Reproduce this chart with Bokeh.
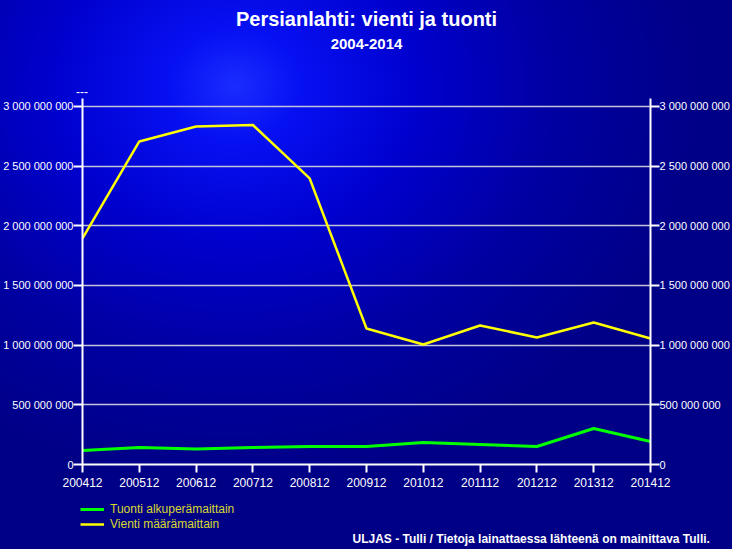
from bokeh.plotting import figure
from bokeh.layouts import column
from bokeh.models import (ColumnDataSource, LinearAxis, FixedTicker, Range1d,
                          Legend, LegendItem, Label)
from bokeh.embed import file_html
from bokeh.resources import INLINE

# ---- data ----
periods = ["200412", "200512", "200612", "200712", "200812", "200912",
           "201012", "201112", "201212", "201312", "201412"]
vienti = [1.894e9, 2.707e9, 2.832e9, 2.845e9, 2.397e9, 1.140e9,
          1.006e9, 1.165e9, 1.064e9, 1.190e9, 1.056e9]
tuonti = [0.117e9, 0.142e9, 0.130e9, 0.142e9, 0.151e9, 0.151e9,
          0.184e9, 0.168e9, 0.151e9, 0.302e9, 0.193e9]
y_ticks = [0, 500_000_000, 1_000_000_000, 1_500_000_000, 2_000_000_000,
           2_500_000_000, 3_000_000_000]
y_tick_labels = ["0", "500 000 000", "1 000 000 000", "1 500 000 000",
                 "2 000 000 000", "2 500 000 000", "3 000 000 000"]
title_text = "Persianlahti: vienti ja tuonti"
subtitle_text = "2004-2014"
footer_text = "ULJAS - Tulli / Tietoja lainattaessa lähteenä on mainittava Tulli."
series_names = ["Tuonti alkuperämaittain", "Vienti määrämaittain"]

FONT = "Liberation Sans"
W = 732
H_TOP, H_MAIN, H_BOT = 98, 391, 60
xs = list(range(len(periods)))
y_overrides = {v: s for v, s in zip(y_ticks, y_tick_labels)}
src = ColumnDataSource(dict(x=xs, vienti=vienti, tuonti=tuonti))

common = dict(output_backend="svg", toolbar_location=None, background_fill_alpha=0,
              border_fill_alpha=0, outline_line_alpha=0)


def free_frame(fig):
    # header/footer strips should not be aligned to the chart frame
    if "frame_align" in fig.properties():
        fig.frame_align = False


# ---------- header (titles) ----------
p0 = figure(width=W, height=H_TOP, x_range=Range1d(0, W), y_range=Range1d(H_TOP, 0),
            x_axis_location=None, y_axis_location=None, min_border=0, title=None, **common)
p0.grid.visible = False
free_frame(p0)
for txt, x, y, size, style in [(title_text, 366, 18.5, "20px", "bold"),
                               (subtitle_text, 366, 43.5, "15px", "bold"),
                               ("---", 81.5, 91, "12px", "normal")]:
    p0.add_layout(Label(x=x, y=y, text=txt, text_align="center", text_baseline="middle",
                        text_color="white", text_font=FONT, text_font_style=style,
                        text_font_size=size))

# ---------- main chart ----------
p = figure(width=W, height=H_MAIN, x_range=Range1d(0, len(periods) - 1),
           y_range=Range1d(0, 3.067e9), min_border_left=81, min_border_right=81,
           min_border_top=0, min_border_bottom=0, title=None, **common)


def style_axis(ax, tick_out):
    ax.axis_line_color = "white"
    ax.axis_line_width = 2
    ax.major_tick_line_color = "white"
    ax.major_tick_line_width = 2
    ax.major_tick_out = tick_out
    ax.major_tick_in = 0
    ax.minor_tick_line_color = None
    ax.major_label_text_color = "white"
    ax.major_label_text_font = FONT


xa = p.xaxis[0]
xa.ticker = FixedTicker(ticks=xs)
xa.major_label_overrides = {i: s for i, s in enumerate(periods)}
style_axis(xa, 8)
xa.major_label_text_font_size = "12px"
xa.major_label_standoff = 5

ya = p.yaxis[0]
ya.ticker = FixedTicker(ticks=y_ticks)
ya.major_label_overrides = y_overrides
style_axis(ya, 9)
ya.major_label_text_font_size = "11px"
ya.major_label_standoff = 0

ra = LinearAxis(ticker=FixedTicker(ticks=y_ticks), major_label_overrides=y_overrides)
style_axis(ra, 9)
ra.major_label_text_font_size = "11px"
ra.major_label_standoff = 0
p.add_layout(ra, "right")

p.xgrid.visible = False
p.ygrid.ticker = FixedTicker(ticks=y_ticks)
p.ygrid.grid_line_color = "#c4c4d8"
p.ygrid.grid_line_width = 1.5

p.line("x", "tuonti", source=src, line_color="#00ff00", line_width=3)
p.line("x", "vienti", source=src, line_color="#ffff00", line_width=2.5)

# ---------- footer: legend + source note ----------
p2 = figure(width=W, height=H_BOT, x_range=Range1d(0, W), y_range=Range1d(H_BOT, 0),
            x_axis_location=None, y_axis_location=None, min_border=0, title=None, **common)
p2.grid.visible = False
free_frame(p2)
# legend swatches reuse the series styles (the series themselves fall outside this strip)
l_t = p2.line("x", "tuonti", source=src, line_color="#00ff00", line_width=3)
l_v = p2.line("x", "vienti", source=src, line_color="#ffff00", line_width=2.5)
legend = Legend(items=[LegendItem(label=series_names[0], renderers=[l_t]),
                       LegendItem(label=series_names[1], renderers=[l_v])],
                location=(80, 18), orientation="vertical", padding=0, margin=0,
                spacing=1, glyph_width=24, glyph_height=14, label_height=14,
                label_standoff=6, background_fill_alpha=0, border_line_alpha=0,
                label_text_color="#d8d830", label_text_font=FONT,
                label_text_font_size="12px")
p2.add_layout(legend)
p2.add_layout(Label(x=352, y=49, text=footer_text, text_align="left",
                    text_baseline="middle", text_color="white", text_font=FONT,
                    text_font_style="bold", text_font_size="12px"))

page = column(p0, p, p2, spacing=0)
page.styles = {"background": "radial-gradient(ellipse 470px 400px at 235px 85px, "
                             "#1a2cff 0%, #0610f2 14%, #0000cc 40%, #0000a2 68%, #000086 100%)"}

open("out.html", "w").write(file_html(page, INLINE))
